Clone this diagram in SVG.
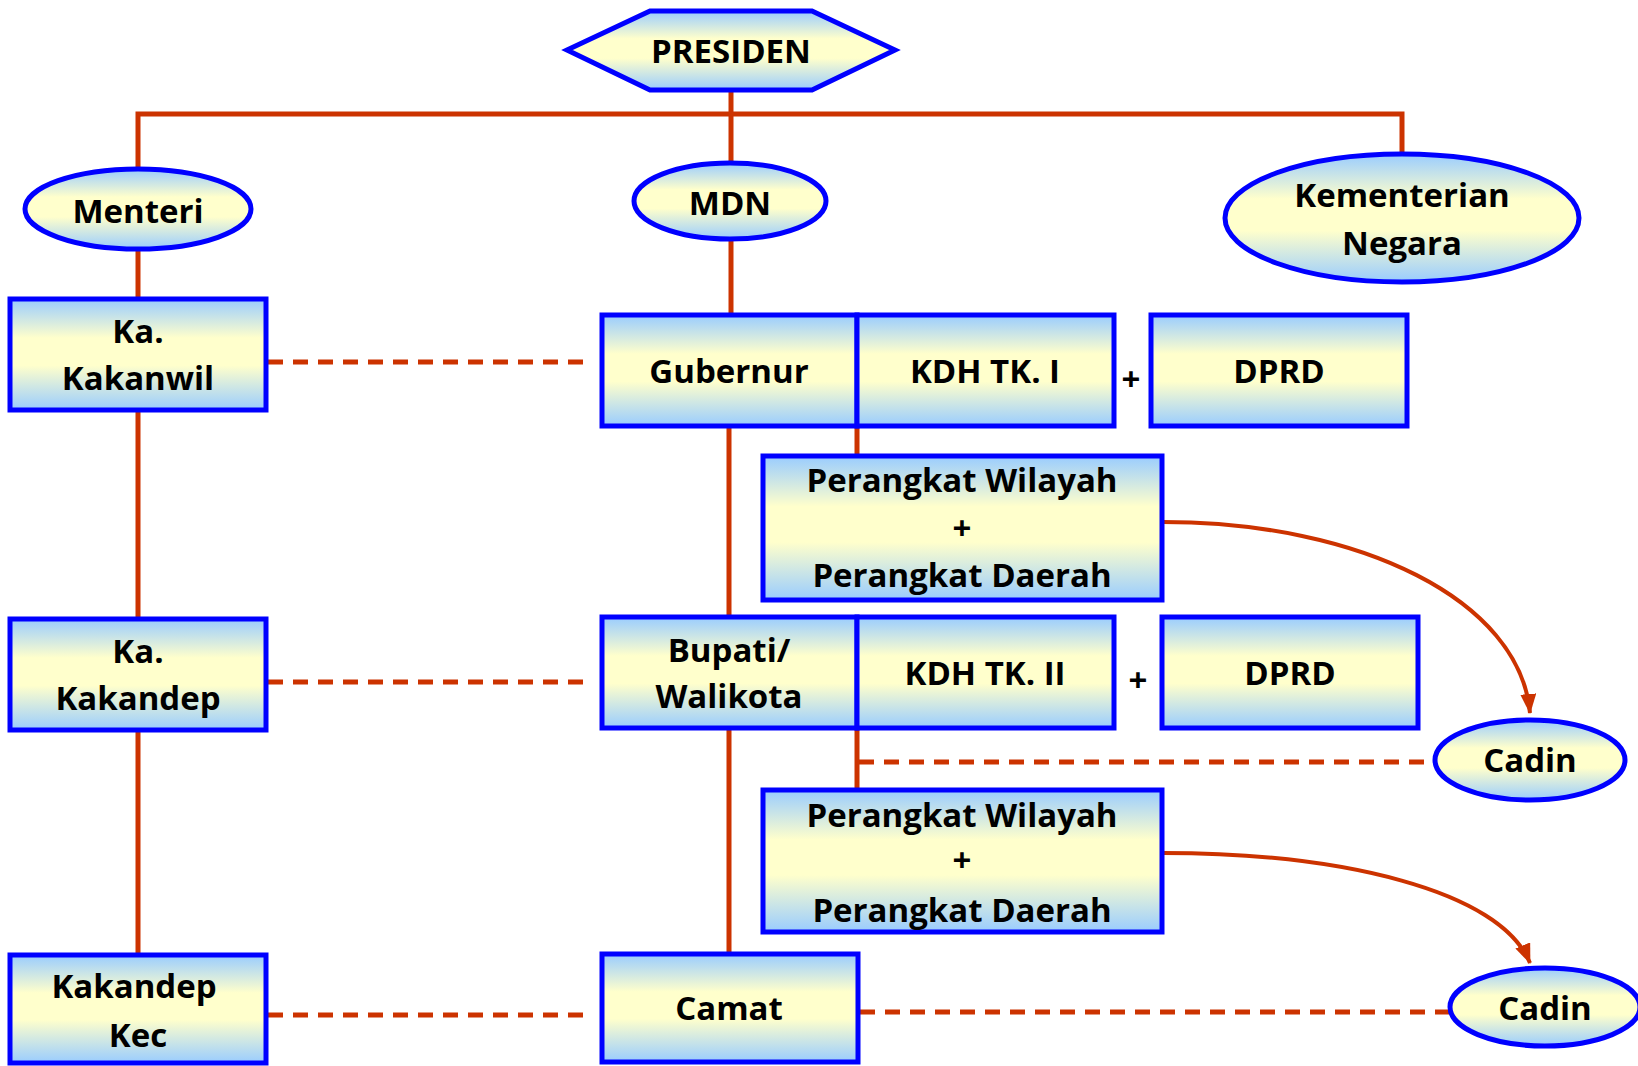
<svg xmlns="http://www.w3.org/2000/svg" width="1638" height="1066" viewBox="0 0 1638 1066">
<defs>
<linearGradient id="g" x1="0" y1="0" x2="0" y2="1">
<stop offset="0" stop-color="#99CCFF"/>
<stop offset="0.35" stop-color="#FFFFCC"/>
<stop offset="0.6" stop-color="#FFFFCC"/>
<stop offset="1" stop-color="#99CCFF"/>
</linearGradient>
<marker id="arr" viewBox="0 0 20 16" refX="19" refY="8" markerWidth="20" markerHeight="16" orient="auto" markerUnits="userSpaceOnUse">
<path d="M0,0 L20,8 L0,16 z" fill="#CC3300"/>
</marker>
</defs>
<style>
.n{fill:url(#g);stroke:#0000FF;stroke-width:5}
.t{font-family:"Open Sans","Liberation Sans",sans-serif;font-weight:bold;font-size:33px;fill:#000;text-anchor:middle}
.c{fill:none;stroke:#CC3300;stroke-width:5}
.d{fill:none;stroke:#CC3300;stroke-width:5;stroke-dasharray:15 10}
.a{fill:none;stroke:#CC3300;stroke-width:4;marker-end:url(#arr)}
</style>
<g id="connectors">
<path class="c" d="M731,90 V162"/>
<path class="c" d="M138,168 V114 H1402 V154"/>
<path class="c" d="M138,250 V297"/>
<path class="c" d="M731,240 V313"/>
<path class="c" d="M138,412 V617"/>
<path class="c" d="M138,732 V953"/>
<path class="c" d="M729,427 V615"/>
<path class="c" d="M729,730 V952"/>
<path class="c" d="M857,427 V455"/>
<path class="c" d="M857,730 V789"/>
<path class="d" d="M268,362 H585"/>
<path class="d" d="M268,682 H585"/>
<path class="d" d="M268,1015 H585"/>
<path class="d" d="M859,762 H1432"/>
<path class="d" d="M860,1012 H1449"/>
<path class="a" d="M1163,522 C1360,522 1520,600 1530,713"/>
<path class="a" d="M1163,853 C1340,853 1500,890 1530,963"/>
</g>
<g id="presiden">
<polygon class="n" points="567,50 650,11 812,11 895,50 812,90 650,90"/>
<text class="t" x="731" y="63">PRESIDEN</text>
</g>
<g id="menteri">
<ellipse class="n" cx="138" cy="209" rx="113" ry="40"/>
<text class="t" x="138" y="223">Menteri</text>
</g>
<g id="mdn">
<ellipse class="n" cx="730" cy="201" rx="96" ry="38"/>
<text class="t" x="730" y="215">MDN</text>
</g>
<g id="kementerian">
<ellipse class="n" cx="1402" cy="218" rx="177" ry="64"/>
<text class="t" x="1402" y="207">Kementerian</text>
<text class="t" x="1402" y="255">Negara</text>
</g>
<g id="kakanwil">
<rect class="n" x="10" y="299" width="256" height="111"/>
<text class="t" x="138" y="343">Ka.</text>
<text class="t" x="138" y="390">Kakanwil</text>
</g>
<g id="gubernur">
<rect class="n" x="602" y="315" width="255" height="111"/>
<text class="t" x="729" y="383">Gubernur</text>
</g>
<g id="kdh1">
<rect class="n" x="857" y="315" width="257" height="111"/>
<text class="t" x="985" y="383">KDH TK. I</text>
</g>
<text class="t" x="1131" y="391">+</text>
<g id="dprd1">
<rect class="n" x="1151" y="315" width="256" height="111"/>
<text class="t" x="1279" y="383">DPRD</text>
</g>
<g id="perangkat1">
<rect class="n" x="763" y="456" width="399" height="144"/>
<text class="t" x="962" y="492">Perangkat Wilayah</text>
<text class="t" x="962" y="540">+</text>
<text class="t" x="962" y="587">Perangkat Daerah</text>
</g>
<g id="kakandep">
<rect class="n" x="10" y="619" width="256" height="111"/>
<text class="t" x="138" y="663">Ka.</text>
<text class="t" x="138" y="710">Kakandep</text>
</g>
<g id="bupati">
<rect class="n" x="602" y="617" width="255" height="111"/>
<text class="t" x="729" y="662">Bupati/</text>
<text class="t" x="729" y="708">Walikota</text>
</g>
<g id="kdh2">
<rect class="n" x="857" y="617" width="257" height="111"/>
<text class="t" x="985" y="685">KDH TK. II</text>
</g>
<text class="t" x="1138" y="692">+</text>
<g id="dprd2">
<rect class="n" x="1162" y="617" width="256" height="111"/>
<text class="t" x="1290" y="685">DPRD</text>
</g>
<g id="cadin1">
<ellipse class="n" cx="1530" cy="760" rx="95" ry="40"/>
<text class="t" x="1530" y="772">Cadin</text>
</g>
<g id="perangkat2">
<rect class="n" x="763" y="790" width="399" height="142"/>
<text class="t" x="962" y="827">Perangkat Wilayah</text>
<text class="t" x="962" y="872">+</text>
<text class="t" x="962" y="922">Perangkat Daerah</text>
</g>
<g id="kakandepkec">
<rect class="n" x="10" y="955" width="256" height="108"/>
<text class="t" x="134" y="998">Kakandep</text>
<text class="t" x="138" y="1047">Kec</text>
</g>
<g id="camat">
<rect class="n" x="602" y="954" width="256" height="108"/>
<text class="t" x="729" y="1020">Camat</text>
</g>
<g id="cadin2">
<ellipse class="n" cx="1545" cy="1007" rx="95" ry="39"/>
<text class="t" x="1545" y="1020">Cadin</text>
</g>
</svg>
